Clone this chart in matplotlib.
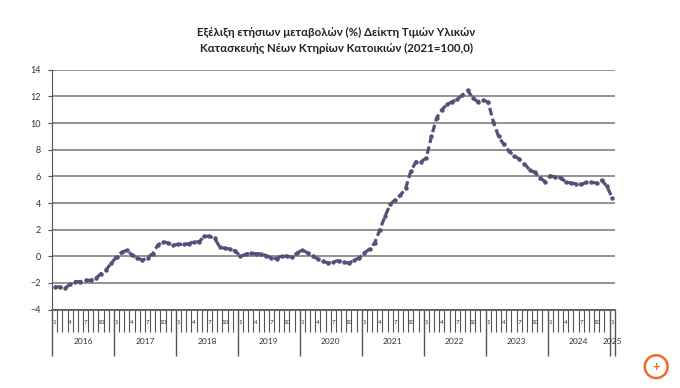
import numpy as np
import matplotlib.pyplot as plt
from matplotlib.transforms import blended_transform_factory
from matplotlib.patches import Circle

plt.rcParams['font.family'] = ['Lato', 'DejaVu Sans']

years = [2016, 2017, 2018, 2019, 2020, 2021, 2022, 2023, 2024, 2025]
month_labels = ["1", "4", "7", "10"]

# annual change (%) per month, Jan 2016 - Jan 2025
v2016 = [-2.3, -2.3, -2.4, -2.1, -1.9, -1.9, -1.8, -1.8, -1.65, -1.3, -1.0, -0.5]
v2017 = [-0.05, 0.3, 0.45, 0.1, -0.1, -0.3, -0.1, 0.2, 0.85, 1.1, 1.0, 0.85]
v2018 = [0.9, 0.9, 0.95, 1.1, 1.1, 1.5, 1.5, 1.35, 0.7, 0.6, 0.55, 0.4]
v2019 = [0.0, 0.15, 0.25, 0.2, 0.2, 0.05, -0.12, -0.17, 0.05, 0.0, -0.05, 0.25]
v2020 = [0.5, 0.25, 0.0, -0.2, -0.37, -0.5, -0.4, -0.33, -0.45, -0.5, -0.3, -0.12]
v2021 = [0.25, 0.55, 1.0, 2.0, 3.0, 3.9, 4.25, 4.6, 5.1, 6.4, 7.1, 7.1]
v2022 = [7.4, 9.0, 10.4, 11.0, 11.4, 11.6, 11.8, 12.1, 12.45, 11.9, 11.6, 11.75]
v2023 = [11.55, 10.1, 9.0, 8.4, 7.9, 7.55, 7.3, 6.95, 6.5, 6.3, 5.9, 5.6]
v2024 = [6.05, 5.95, 5.9, 5.6, 5.5, 5.45, 5.4, 5.55, 5.55, 5.5, 5.7, 5.25]
v2025 = [4.4]

values = v2016 + v2017 + v2018 + v2019 + v2020 + v2021 + v2022 + v2023 + v2024 + v2025
n = len(values)
x = np.arange(n)

fig = plt.figure(figsize=(6.8, 3.88), dpi=100)
ax = fig.add_axes([0.0765, 0.202, 0.8275, 0.618])

ax.set_ylim(-4, 14)
ax.set_yticks(np.arange(-4, 15, 2))
ax.set_xlim(-0.5, n - 0.5)
ax.grid(axis='y', color='#8a8a8a', lw=1.3)
ax.set_axisbelow(True)

ax.plot(x, values, color='#545079', lw=2.3, dashes=(2.4, 1.1),
        marker='o', ms=2.2, mec='#545079', mfc='#545079')

for s in ['top', 'right']:
    ax.spines[s].set_visible(False)
ax.spines['left'].set_color('#555555')
ax.spines['bottom'].set_color('#555555')
ax.spines['bottom'].set_linewidth(1.2)

ax.tick_params(axis='y', direction='out', length=3, color='#555555',
               labelsize=6.5, pad=5, labelcolor='#333333')

# category boundaries
bounds = np.arange(n + 1) - 0.5
year_bounds = [b for i, b in enumerate(bounds) if i % 12 == 0] + [n - 0.5]
ax.set_xticks(year_bounds)
ax.set_xticks(bounds, minor=True)
ax.set_xticklabels([])
ax.tick_params(axis='x', which='major', direction='out', length=33,
               width=1, color='#555555')
ax.tick_params(axis='x', which='minor', direction='out', length=16,
               width=0.8, color='#555555')

tr = blended_transform_factory(ax.transData, ax.transAxes)
for i in range(n):
    m = i % 12 + 1
    if str(m) in month_labels:
        ax.text(i, -0.052, str(m), transform=tr, ha='center', va='center',
                fontsize=4.5, color='#333333')
for k, yr in enumerate(years):
    start = k * 12
    end = min(start + 12, n)
    ax.text((start + end - 1) / 2, -0.135, str(yr), transform=tr,
            ha='center', va='center', fontsize=6, color='#333333')

fig.text(0.495, 0.895, "Εξέλιξη ετήσιων μεταβολών (%) Δείκτη Τιμών Υλικών\n"
         "Κατασκευής Νέων Κτηρίων Κατοικιών (2021=100,0)",
         ha='center', va='center', fontsize=8.3, fontweight='bold',
         linespacing=1.5, color='#222222')

# site badge bottom-right
badge = fig.add_axes([0.945, 0.02, 0.04, 0.07])
badge.add_patch(Circle((0.5, 0.5), 0.42, fill=False, ec='#f06a2a', lw=1.8))
badge.text(0.5, 0.5, "+", ha='center', va='center', fontsize=9,
           color='#f06a2a', fontweight='bold')
badge.set_xlim(0, 1)
badge.set_ylim(0, 1)
badge.set_aspect('equal')
badge.axis('off')

fig.savefig('out.png', dpi=100)
